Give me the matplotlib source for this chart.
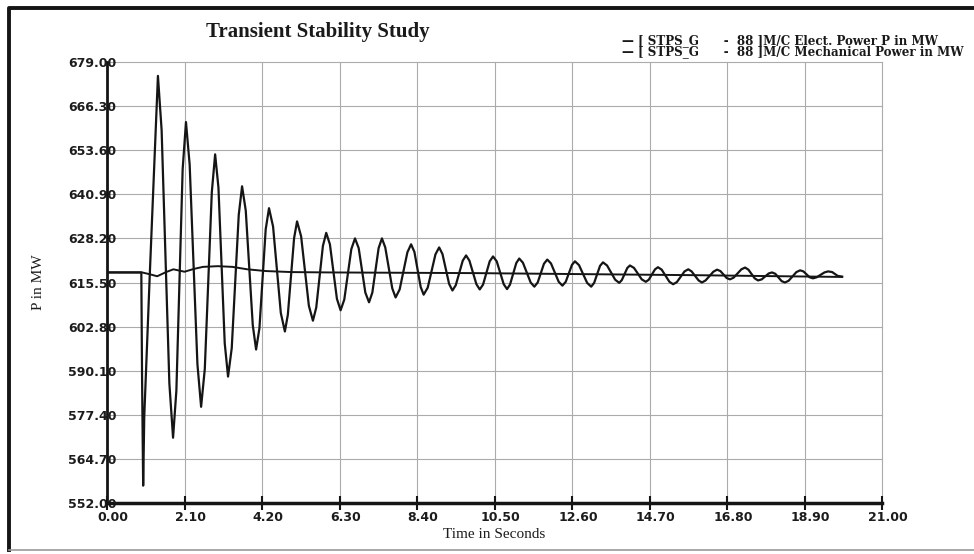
import matplotlib

matplotlib.use("Agg")
import matplotlib.pyplot as plt
from matplotlib.lines import Line2D
from matplotlib.transforms import ScaledTranslation

# tick values as printed on the chart
X_TICKS = [0.00, 2.10, 4.20, 6.30, 8.40, 10.50, 12.60, 14.70, 16.80, 18.90, 21.00]
Y_TICKS = [552.00, 564.70, 577.40, 590.10, 602.80, 615.50, 628.20, 640.90, 653.60, 666.30, 679.00]

# electrical power P (MW): pre-fault, fault dip, then the swings
ELEC_T = [0.00, 0.93, 0.95, 0.98, 1.01, 1.16, 1.38,
          1.48, 1.69, 1.79, 1.88, 2.05, 2.14, 2.24, 2.45, 2.55, 2.65, 2.84, 2.93,
          3.02, 3.19, 3.28, 3.38, 3.57, 3.66, 3.76, 3.95, 4.04, 4.13, 4.30, 4.39,
          4.50, 4.71, 4.82, 4.90, 5.07, 5.15, 5.26, 5.47, 5.58, 5.67, 5.85, 5.94,
          6.04, 6.23, 6.33, 6.43, 6.62, 6.72, 6.82, 7.00, 7.10, 7.19, 7.36, 7.45,
          7.54, 7.73, 7.82, 7.93, 8.14, 8.24, 8.33, 8.50, 8.58, 8.69, 8.90, 9.00,
          9.09, 9.27, 9.36, 9.45, 9.64, 9.73, 9.82, 10.01, 10.10, 10.19, 10.37, 10.46,
          10.56, 10.75, 10.84, 10.92, 11.09, 11.17, 11.27, 11.48, 11.58, 11.67, 11.84, 11.93,
          12.03, 12.24, 12.34, 12.43, 12.60, 12.68, 12.79, 13.01, 13.12, 13.20, 13.36, 13.44,
          13.55, 13.77, 13.88, 13.95, 14.10, 14.17, 14.28, 14.49, 14.60, 14.68, 14.85, 14.93,
          15.03, 15.24, 15.34, 15.44, 15.65, 15.75, 15.84, 16.03, 16.12, 16.22, 16.43, 16.53,
          16.62, 16.79, 16.88, 16.98, 17.19, 17.29, 17.38, 17.55, 17.64, 17.74, 17.93, 18.02,
          18.11, 18.28, 18.37, 18.47, 18.68, 18.78, 18.87, 19.04, 19.13, 19.23, 19.44, 19.54,
          19.65, 19.80, 19.92]
ELEC_P = [618.4, 618.4, 588.0, 557.0, 577.0, 618.0, 675.0,
          659.4, 586.4, 570.8, 584.4, 648.1, 661.7, 649.4, 592.0, 579.7, 590.6, 641.5, 652.4,
          642.8, 598.0, 588.4, 596.6, 635.0, 643.2, 636.2, 603.2, 596.2, 602.3, 630.8, 636.9,
          631.6, 606.7, 601.4, 606.2, 628.3, 633.1, 628.8, 608.8, 604.5, 608.3, 626.0, 629.8,
          626.5, 610.8, 607.5, 610.6, 625.1, 628.2, 625.4, 612.6, 609.8, 612.6, 625.4, 628.2,
          625.6, 613.8, 611.2, 613.5, 624.2, 626.5, 624.3, 614.2, 612.0, 614.0, 623.6, 625.6,
          623.7, 615.1, 613.2, 614.7, 621.8, 623.3, 621.8, 615.0, 613.5, 614.9, 621.6, 623.0,
          621.6, 615.0, 613.6, 614.9, 621.1, 622.4, 621.2, 615.5, 614.3, 615.5, 620.9, 622.1,
          621.0, 615.7, 614.6, 615.7, 620.6, 621.6, 620.5, 615.4, 614.3, 615.4, 620.3, 621.3,
          620.4, 616.3, 615.4, 616.2, 619.7, 620.4, 619.7, 616.4, 615.7, 616.3, 619.3, 619.9,
          619.2, 615.7, 615.0, 615.6, 618.7, 619.3, 618.7, 616.1, 615.5, 616.1, 618.6, 619.2,
          618.8, 616.8, 616.4, 616.9, 619.3, 619.8, 619.2, 616.7, 616.1, 616.4, 618.1, 618.4,
          618.0, 615.9, 615.5, 616.0, 618.5, 619.0, 618.7, 617.0, 616.7, 617.0, 618.4, 618.7,
          618.5, 617.4, 617.2]

# mechanical power (MW)
MECH_T = [0.00, 0.95, 1.15, 1.36, 1.60, 1.80, 2.10, 2.35, 2.60, 3.00, 3.40, 3.80, 4.30, 5.00,
          6.00, 8.00, 10.00, 12.00, 14.00, 16.00, 17.50, 19.92]
MECH_P = [618.4, 618.4, 617.9, 617.3, 618.5, 619.3, 618.6, 619.4, 620.0, 620.2, 620.0, 619.3,
          618.8, 618.5, 618.4, 618.3, 618.2, 618.0, 617.8, 617.6, 617.4, 617.1]

TITLE = "Transient Stability Study"
LEGEND = ["\u2014 [ STPS_G      -  88 ]M/C Elect. Power P in MW",
          "\u2014 [ STPS_G      -  88 ]M/C Mechanical Power in MW"]

W, H = 974, 554
INK = "#151515"
fig = plt.figure(figsize=(W / 100, H / 100), dpi=100)
fig.patch.set_facecolor("white")
ax = fig.add_axes([107 / W, 1 - 503 / H, 775 / W, 441 / H])

ax.plot(ELEC_T, ELEC_P, color=INK, lw=1.6)
ax.plot(MECH_T, MECH_P, color=INK, lw=1.4)

ax.set_xlim(X_TICKS[0], X_TICKS[-1])
ax.set_ylim(Y_TICKS[0], Y_TICKS[-1])
ax.set_xticks(X_TICKS)
ax.set_xticklabels([f"{v:.2f}" for v in X_TICKS])
ax.set_yticks(Y_TICKS)
ax.set_yticklabels([f"{v:.2f}" for v in Y_TICKS])
ax.grid(True, color="#ababab", lw=0.8)
for gl in ax.get_xgridlines() + ax.get_ygridlines():
    gl.set_clip_on(False)
ax.set_axisbelow(True)

for s in ("top", "right"):
    ax.spines[s].set_visible(False)
ax.spines["left"].set_linewidth(2.0)
ax.spines["bottom"].set_linewidth(2.5)
ax.spines["left"].set_color(INK)
ax.spines["bottom"].set_color(INK)

tick_font = dict(family="DejaVu Sans", weight="bold", size=9)
ax.tick_params(axis="x", direction="inout", length=10, width=1.5, color=INK, pad=1)
ax.tick_params(axis="y", length=0, pad=-7)
for lab in ax.get_xticklabels() + ax.get_yticklabels():
    lab.set_fontproperties(tick_font)
    lab.set_color("#1c1c1c")
for lab in ax.get_xticklabels():
    lab.set_transform(lab.get_transform() + ScaledTranslation(0.06, 0, fig.dpi_scale_trans))

ax.set_xlabel("Time in Seconds", family="Liberation Serif", size=11, color="#1c1c1c")
ax.xaxis.set_label_coords(0.5, -0.056)
ax.set_ylabel("P in MW", family="Liberation Serif", size=11, color="#1c1c1c")
ax.yaxis.set_label_coords(-0.08, 0.5)

fig.text(318 / W, 1 - 32 / H, TITLE, ha="center", va="center",
         family="Liberation Serif", weight="bold", size=15, color="#1a1a1a")
fig.text(622 / W, 1 - 46 / H, "\n".join(LEGEND), ha="left", va="center", linespacing=0.82,
         family="DejaVu Serif", weight="bold", size=8.6, color="#1a1a1a")

# scanned page frame: heavy left / top edge, faint bottom edge
fig.add_artist(Line2D([9 / W, 9 / W, 1.0], [1 - 550 / H, 1 - 8 / H, 1 - 8 / H],
                      transform=fig.transFigure, color=INK, lw=2.8))
fig.add_artist(Line2D([9 / W, 1.0], [1 - 550 / H, 1 - 550 / H],
                      transform=fig.transFigure, color="#9a9a9a", lw=1.2))

fig.savefig("out.png", dpi=100, facecolor="white")
